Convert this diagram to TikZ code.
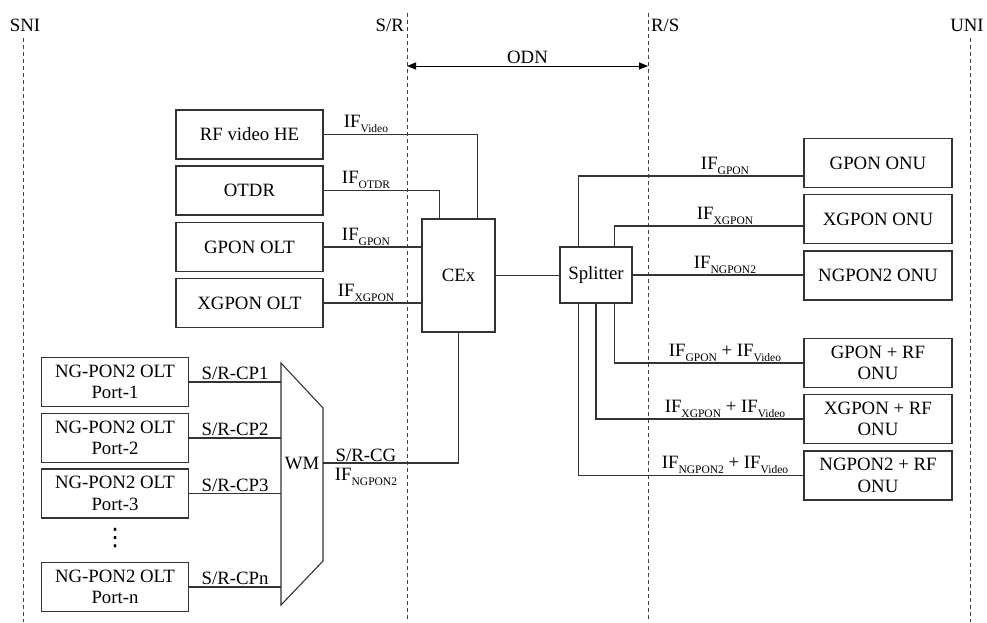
\documentclass[tikz,border=0pt]{standalone}
\usepackage{fontspec}
\setmainfont{Liberation Serif}
\newfontfamily\symfont{DejaVu Sans}
\usetikzlibrary{arrows.meta,positioning,calc}

\newcommand{\IFsub}[1]{IF\raisebox{-5pt}{\fontsize{11.5}{12}\selectfont #1}}

\begin{document}
\begin{tikzpicture}[x=1pt, y=-1pt,
    every node/.style={font=\fontsize{18.8}{21.5}\selectfont},
    unit/.style={draw=black!80, line width=1.1pt, minimum width=147pt, minimum height=49pt, inner sep=0pt, align=center},
    plane/.style={dash pattern=on 4pt off 3pt, line width=0.9pt, black!75},
    link/.style={line width=1.1pt, black!80},
    lbl/.style={inner sep=1.5pt, text=black},
    odn/.style={{Triangle[length=9pt,width=7pt]}-{Triangle[length=9pt,width=7pt]}, line width=1pt}
]
\useasboundingbox (0,0) rectangle (987,622);

% reference points
\node (sni) at (25,25) {SNI};
\node[anchor=east, inner sep=2pt] (sr) at (406,25) {S/R};
\node[anchor=west, inner sep=2pt] (rs) at (649,25) {R/S};
\node (uni) at (967,25) {UNI};
\draw[plane] (23,38) -- (23,622);
\draw[plane] (407,13) -- (407,622);
\draw[plane] (648,13) -- (648,622);
\draw[plane] (970,38) -- (970,622);

\coordinate (odnL) at (407,66);
\coordinate (odnR) at (648,66);
\draw[odn] (odnL) -- node[above, lbl] (odnlbl) {ODN} (odnR);

% OLT side
\node[unit] (rfhe) at (249.5,134.5) {RF video HE};
\node[unit] (otdr) at (249.5,190.5) {OTDR};
\node[unit] (golt) at (249.5,247) {GPON OLT};
\node[unit] (xolt) at (249.5,303) {XGPON OLT};
\node[unit, minimum width=73pt, minimum height=113pt] (cex) at (458.5,275.5) {CEx};

\node[unit] (port1) at (115,382) {NG-PON2 OLT\\Port-1};
\node[unit] (port2) at (115,438) {NG-PON2 OLT\\Port-2};
\node[unit] (port3) at (115,493.5) {NG-PON2 OLT\\Port-3};
\node[font=\symfont\fontsize{24}{24}\selectfont, inner sep=0pt] (dots) at (115,538) {⋮};
\node[unit] (portn) at (115,587) {NG-PON2 OLT\\Port-n};

\coordinate (wm1) at (281,363);
\coordinate (wm2) at (323,408);
\coordinate (wm3) at (323,561);
\coordinate (wm4) at (281,605);
\draw[link] (wm1) -- (wm2) -- (wm3) -- (wm4) -- cycle;
\node (wm) at (302,463) {WM};
\coordinate (wmout) at (323,463);

% ODN side
\node[unit, minimum width=72pt, minimum height=56pt] (split) at (596,275) {Splitter};

% ONU side
\node[unit, minimum width=148pt] (gonu) at (878,163) {GPON ONU};
\node[unit, minimum width=148pt] (xonu) at (878,219) {XGPON ONU};
\node[unit, minimum width=148pt] (nonu) at (878,275.5) {NGPON2 ONU};
\node[unit, minimum width=148pt] (grfonu) at (878,363) {GPON + RF\\ONU};
\node[unit, minimum width=148pt] (xrfonu) at (878,419) {XGPON + RF\\ONU};
\node[unit, minimum width=148pt] (nrfonu) at (878,475.5) {NGPON2 + RF\\ONU};

% links
\draw[link] (rfhe.east) -| ([xshift=-18pt]cex.north east);
\draw[link] (otdr.east) -| ([xshift=18pt]cex.north west);
\draw[link] (golt.east) -- (cex.west |- golt.east);
\draw[link] (xolt.east) -- (cex.west |- xolt.east);
\draw[link] (cex.east) -- (cex.east -| split.west);

\draw[link] (port1.east) -- node[above, lbl] (cp1) {S/R-CP1} (port1.east -| wm1);
\draw[link] (port2.east) -- node[above, lbl] (cp2) {S/R-CP2} (port2.east -| wm1);
\draw[link] (port3.east) -- node[above, lbl] (cp3) {S/R-CP3} (port3.east -| wm1);
\draw[link] (portn.east) -- node[above, lbl] (cpn) {S/R-CPn} (portn.east -| wm1);
\draw[link] (wmout) -| (cex.south);

\draw[link] ([xshift=19pt]split.north west) |- ([yshift=-13pt]gonu.west);
\draw[link] ([xshift=-18pt]split.north east) |- ([yshift=-7pt]xonu.west);
\draw[link] (split.east) -- (nonu.west |- split.east);
\draw[link] ([xshift=-18pt]split.south east) |- (grfonu.west);
\draw[link] (split.south) |- (xrfonu.west);
\draw[link] ([xshift=19pt]split.south west) |- (nrfonu.west);

% interface labels
\node[above, lbl] (lvideo) at (366,134) {\IFsub{Video}};
\node[above, lbl] (lotdr) at (366,190) {\IFsub{OTDR}};
\node[above, lbl] (lgpon) at (366,247) {\IFsub{GPON}};
\node[above, lbl] (lxgpon) at (366,303) {\IFsub{XGPON}};
\node[above, lbl] (lcg) at (366,463) {S/R-CG};
\node[below, lbl, yshift=-3pt] (lngpon) at (366,463) {\IFsub{NGPON2}};

\node[above, lbl] (rgpon) at (725,176) {\IFsub{GPON}};
\node[above, lbl] (rxgpon) at (725,226) {\IFsub{XGPON}};
\node[above, lbl] (rngpon) at (725,275) {\IFsub{NGPON2}};
\node[above, lbl] (rgrf) at (725,363) {\IFsub{GPON} + \IFsub{Video}};
\node[above, lbl] (rxrf) at (725,419) {\IFsub{XGPON} + \IFsub{Video}};
\node[above, lbl] (rnrf) at (725,475) {\IFsub{NGPON2} + \IFsub{Video}};
\end{tikzpicture}
\end{document}
